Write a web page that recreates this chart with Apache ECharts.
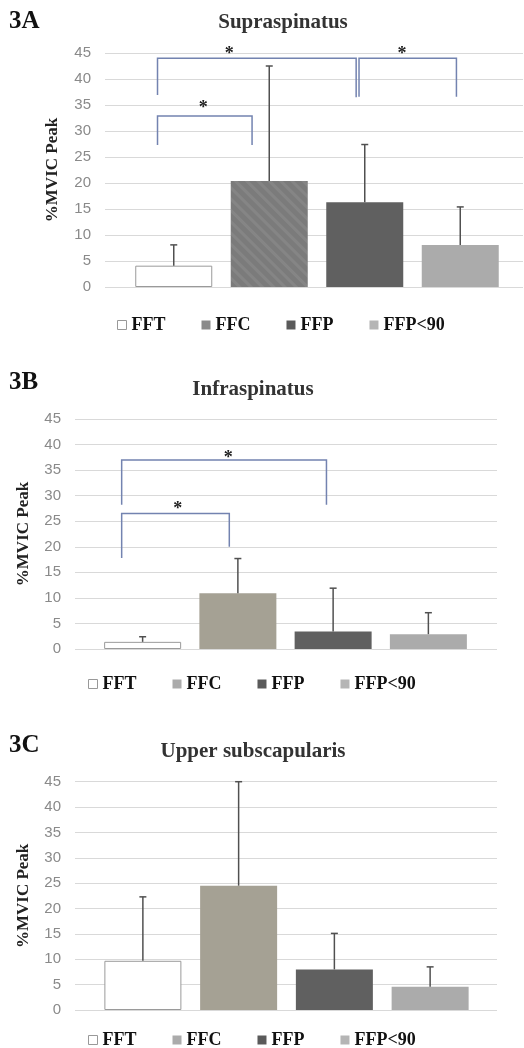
<!DOCTYPE html>
<html>
<head>
<meta charset="utf-8">
<script src="https://cdn.jsdelivr.net/npm/echarts@6/dist/echarts.min.js"></script>
<style>
    html, body { margin: 0; padding: 0; background: #fff; }
    .panel { position: absolute; left: 0; width: 524px; }
</style>
</head>
<body>
<div id="chartA" class="panel" style="top:0;height:340px"></div>
<div id="chartB" class="panel" style="top:340px;height:360px"></div>
<div id="chartC" class="panel" style="top:700px;height:348px"></div>
<script>
    // groups
    const categories = ['FFT', 'FFC', 'FFP', 'FFP<90']
    const yMax = 45
    const yStep = 5

    // %MVIC peak, mean and SD
    const supraMean = [4.1, 20.4, 16.3, 8.1]
    const supraSd = [4.0, 22.1, 11.1, 7.3]
    const infraMean = [1.4, 10.9, 3.4, 2.9]
    const infraSd = [1.0, 6.8, 8.5, 4.2]
    const subscapMean = [9.7, 24.5, 8.0, 4.6]
    const subscapSd = [12.6, 20.5, 7.1, 3.9]

    const serif = '"Liberation Serif", "Times New Roman", serif'
    const sans = '"Liberation Sans", Arial, sans-serif'

    // significance brackets: from, to (category units), top, left leg, right leg, star x, star y
    const panels = [
        {
            dom: 'chartA', label: '3A', labelY: 21, title: 'Supraspinatus', titleX: 283, titleY: 23,
            mean: supraMean, sd: supraSd, ffc: '#7b7b7b', ffcLegend: '#8a8a8a', striped: true,
            gridLeft: 105, gridRight: 1, gridTop: 53, gridHeight: 234,
            barLeft: 126, barRight: 16, nameGap: 44, legendLeft: 112, legendTop: 311,
            brackets: [
                [-0.17, 0.82, 32.9, 27.3, 27.3, 0.31, 35.2],
                [-0.17, 1.91, 44.0, 36.9, 36.5, 0.58, 45.5],
                [1.94, 2.96, 44.0, 36.6, 36.6, 2.39, 45.5]
            ]
        },
        {
            dom: 'chartB', label: '3B', labelY: 42, title: 'Infraspinatus', titleX: 253, titleY: 50,
            mean: infraMean, sd: infraSd, ffc: '#a5a194', ffcLegend: '#ababab', striped: false,
            gridLeft: 75, gridRight: 27, gridTop: 79, gridHeight: 230,
            barLeft: 95, barRight: 48, nameGap: 43, legendLeft: 83, legendTop: 330,
            brackets: [
                [-0.22, 0.91, 26.5, 17.8, 20.0, 0.37, 28.2],
                [-0.22, 1.93, 37.0, 28.2, 28.2, 0.90, 38.0]
            ]
        },
        {
            dom: 'chartC', label: '3C', labelY: 45, title: 'Upper subscapularis', titleX: 253, titleY: 52,
            mean: subscapMean, sd: subscapSd, ffc: '#a5a194', ffcLegend: '#ababab', striped: false,
            gridLeft: 75, gridRight: 27, gridTop: 81.7, gridHeight: 228.3,
            barLeft: 95, barRight: 46, nameGap: 43, legendLeft: 83, legendTop: 326,
            brackets: []
        }
    ]

    function barColors(p) {
        return [
            { color: '#ffffff', borderColor: '#9a9a9a', borderWidth: 1 },
            p.striped
                ? { color: p.ffc, decal: { symbol: 'rect', symbolSize: 1, dashArrayX: [[1, 0]], dashArrayY: [3, 5], rotation: Math.PI / 4, color: 'rgba(255,255,255,0.08)' } }
                : { color: p.ffc },
            { color: '#606060' },
            { color: '#ababab' }
        ]
    }

    function renderError(params, api) {
        const top = api.coord([api.value(0), api.value(2)])
        const base = api.coord([api.value(0), api.value(1)])
        const style = { stroke: '#505050', lineWidth: 1.5 }
        return {
            type: 'group',
            children: [
                { type: 'line', shape: { x1: base[0], y1: base[1], x2: top[0], y2: top[1] }, style },
                { type: 'line', shape: { x1: top[0] - 3.5, y1: top[1], x2: top[0] + 3.5, y2: top[1] }, style }
            ]
        }
    }

    function renderBracket(params, api) {
        const origin = api.coord([0, 0])[0]
        const band = api.size([1, 0])[0]
        const xAt = v => origin + v * band
        const yAt = v => api.coord([0, v])[1]
        const x1 = xAt(api.value(0)), x2 = xAt(api.value(1))
        const yTop = yAt(api.value(2))
        const style = { stroke: '#7383b0', lineWidth: 1.5 }
        return {
            type: 'group',
            children: [
                { type: 'polyline', shape: { points: [[x1, yAt(api.value(3))], [x1, yTop], [x2, yTop], [x2, yAt(api.value(4))]] }, style: Object.assign({ fill: null }, style) },
                { type: 'text', x: xAt(api.value(5)), y: yAt(api.value(6)) + 4,
                  style: { text: '*', font: 'bold 18px ' + serif, fill: '#222', align: 'center', verticalAlign: 'middle' } }
            ]
        }
    }

    function buildOption(p) {
        const colors = barColors(p)
        const legendColors = ['#ffffff', p.ffcLegend, '#5a5a5a', '#b5b5b5']
        const barSeries = categories.map((name, k) => ({
            name,
            type: 'bar',
            xAxisIndex: 1,
            yAxisIndex: 1,
            barWidth: 77,
            barGap: '-100%',
            itemStyle: colors[k],
            data: p.mean.map((v, i) => (i === k ? v : '-'))
        }))
        return {
            animation: false,
            grid: [
                { left: p.gridLeft, right: p.gridRight, top: p.gridTop, height: p.gridHeight },
                { left: p.barLeft, right: p.barRight, top: p.gridTop, height: p.gridHeight }
            ],
            xAxis: [
                { type: 'category', gridIndex: 0, data: categories, show: false },
                { type: 'category', gridIndex: 1, data: categories, show: false }
            ],
            yAxis: [
                {
                    type: 'value', gridIndex: 0, min: 0, max: yMax, interval: yStep,
                    name: '%MVIC Peak', nameLocation: 'middle', nameRotate: 90, nameGap: p.nameGap,
                    nameTextStyle: { fontFamily: serif, fontWeight: 'bold', fontSize: 17, color: '#222' },
                    axisLine: { show: false }, axisTick: { show: false },
                    axisLabel: { fontFamily: sans, fontSize: 15, color: '#8a8a8a', margin: 14 },
                    splitLine: { lineStyle: { color: '#d9d9d9', width: 1 } }
                },
                { type: 'value', gridIndex: 1, min: 0, max: yMax, show: false, splitLine: { show: false } }
            ],
            legend: {
                left: p.legendLeft, top: p.legendTop, icon: 'rect', itemWidth: 9, itemHeight: 9, itemGap: 36,
                selectedMode: false,
                textStyle: { fontFamily: serif, fontWeight: 'bold', fontSize: 18, color: '#111' },
                data: categories.map((name, k) => ({
                    name,
                    itemStyle: k === 0
                        ? { color: '#fff', borderColor: '#999', borderWidth: 1, decal: 'none' }
                        : { color: legendColors[k], borderWidth: 0, decal: 'none' }
                }))
            },
            graphic: [
                { type: 'text', left: 9, top: p.labelY - 12,
                  style: { text: p.label, font: 'bold 25px ' + serif, fill: '#111' } },
                { type: 'text', x: p.titleX, y: p.titleY,
                  style: { text: p.title, font: 'bold 21px ' + serif, fill: '#333', align: 'center', verticalAlign: 'middle' } }
            ],
            series: barSeries.concat([
                {
                    type: 'custom', xAxisIndex: 1, yAxisIndex: 1, z: 5, clip: false,
                    renderItem: renderError,
                    data: p.mean.map((v, i) => [i, v, v + p.sd[i]])
                },
                {
                    type: 'custom', xAxisIndex: 1, yAxisIndex: 1, z: 6, clip: false,
                    renderItem: renderBracket,
                    data: p.brackets
                }
            ])
        }
    }

    panels.forEach(p => {
        const chartInstance = echarts.init(document.getElementById(p.dom), null, { renderer: 'canvas' })
        chartInstance.setOption(buildOption(p))
    })
</script>
</body>
</html>
